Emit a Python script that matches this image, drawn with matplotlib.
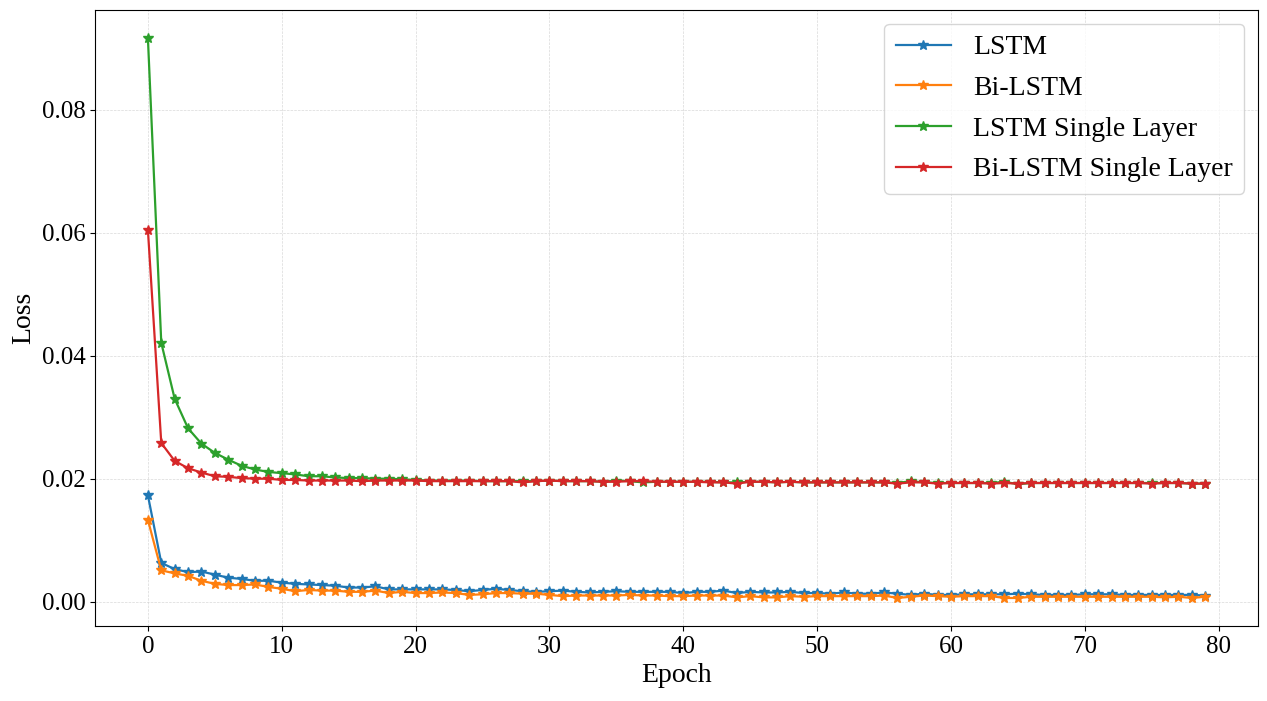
import matplotlib
matplotlib.use('Agg')
import matplotlib.pyplot as plt

plt.rcParams['font.family'] = ['Liberation Serif', 'DejaVu Serif']

epochs = list(range(80))

lstm = [
    0.0173, 0.0063, 0.0053, 0.0048, 0.0049, 0.0044, 0.0039, 0.0037, 0.0034, 0.0034,
    0.0031, 0.0029, 0.0028, 0.0027, 0.0026, 0.0023, 0.0023, 0.0025, 0.0020, 0.0020,
    0.0020, 0.0020, 0.0020, 0.0019, 0.0017, 0.0019, 0.0021, 0.0019, 0.0017, 0.0016,
    0.0017, 0.0018, 0.0016, 0.0015, 0.0016, 0.0017, 0.0016, 0.0016, 0.0016, 0.0016,
    0.0014, 0.0016, 0.0016, 0.0018, 0.0014, 0.0016, 0.0015, 0.0015, 0.0016, 0.0014,
    0.0014, 0.0013, 0.0015, 0.0013, 0.0013, 0.0015, 0.0013, 0.0011, 0.0013, 0.0011,
    0.0011, 0.0012, 0.0012, 0.0012, 0.0012, 0.0013, 0.0012, 0.0011, 0.0011, 0.0011,
    0.0012, 0.0012, 0.0012, 0.0011, 0.0011, 0.0011, 0.0011, 0.0011, 0.0011, 0.0010,
]

bi_lstm = [
    0.0133, 0.0051, 0.0046, 0.0042, 0.0034, 0.0029, 0.0027, 0.0027, 0.0028, 0.0024,
    0.0021, 0.0017, 0.0019, 0.0018, 0.0018, 0.0016, 0.0016, 0.0018, 0.0014, 0.0016,
    0.0014, 0.0014, 0.0015, 0.0014, 0.0011, 0.0012, 0.0014, 0.0014, 0.0013, 0.0013,
    0.0011, 0.0009, 0.0010, 0.0010, 0.0010, 0.0010, 0.0011, 0.0010, 0.0010, 0.0009,
    0.0009, 0.0010, 0.0010, 0.0010, 0.0007, 0.0009, 0.0007, 0.0007, 0.0009, 0.0008,
    0.0009, 0.0009, 0.0009, 0.0009, 0.0009, 0.0010, 0.0006, 0.0008, 0.0010, 0.0009,
    0.0008, 0.0009, 0.0009, 0.0009, 0.0006, 0.0006, 0.0008, 0.0008, 0.0008, 0.0008,
    0.0008, 0.0008, 0.0008, 0.0008, 0.0008, 0.0008, 0.0007, 0.0008, 0.0006, 0.0008,
]

lstm_single = [
    0.0917, 0.0421, 0.0330, 0.0282, 0.0257, 0.0242, 0.0231, 0.0221, 0.0215, 0.0211,
    0.0209, 0.0207, 0.0204, 0.0204, 0.0202, 0.0201, 0.0201, 0.0200, 0.0200, 0.0199,
    0.0198, 0.0197, 0.0197, 0.0197, 0.0197, 0.0196, 0.0196, 0.0196, 0.0196, 0.0196,
    0.0197, 0.0196, 0.0196, 0.0196, 0.0195, 0.0197, 0.0196, 0.0194, 0.0195, 0.0195,
    0.0195, 0.0195, 0.0195, 0.0194, 0.0194, 0.0195, 0.0195, 0.0194, 0.0195, 0.0194,
    0.0194, 0.0194, 0.0194, 0.0194, 0.0194, 0.0194, 0.0193, 0.0196, 0.0194, 0.0193,
    0.0193, 0.0193, 0.0193, 0.0193, 0.0195, 0.0191, 0.0193, 0.0193, 0.0193, 0.0193,
    0.0193, 0.0193, 0.0193, 0.0193, 0.0193, 0.0193, 0.0193, 0.0193, 0.0192, 0.0192,
]

bi_lstm_single = [
    0.0605, 0.0258, 0.0229, 0.0217, 0.0210, 0.0204, 0.0203, 0.0201, 0.0200, 0.0200,
    0.0198, 0.0198, 0.0197, 0.0197, 0.0197, 0.0197, 0.0196, 0.0197, 0.0197, 0.0197,
    0.0197, 0.0196, 0.0196, 0.0196, 0.0196, 0.0196, 0.0196, 0.0196, 0.0194, 0.0196,
    0.0197, 0.0196, 0.0196, 0.0196, 0.0195, 0.0195, 0.0196, 0.0196, 0.0195, 0.0195,
    0.0195, 0.0195, 0.0194, 0.0194, 0.0192, 0.0195, 0.0195, 0.0194, 0.0195, 0.0194,
    0.0194, 0.0194, 0.0194, 0.0194, 0.0194, 0.0194, 0.0192, 0.0194, 0.0194, 0.0192,
    0.0193, 0.0193, 0.0193, 0.0192, 0.0193, 0.0192, 0.0193, 0.0193, 0.0193, 0.0193,
    0.0193, 0.0193, 0.0193, 0.0193, 0.0193, 0.0192, 0.0193, 0.0193, 0.0192, 0.0192,
]

series = [
    ('LSTM', lstm),
    ('Bi-LSTM', bi_lstm),
    ('LSTM Single Layer', lstm_single),
    ('Bi-LSTM Single Layer', bi_lstm_single),
]

fig, ax = plt.subplots(figsize=(12.67, 7.01), dpi=100)
fig.subplots_adjust(left=0.075, right=0.993, top=0.986, bottom=0.107)

for nombre, valores in series:
    ax.plot(epochs, valores, marker='*', markersize=7, linewidth=1.6, label=nombre)

ax.set_xlabel('Epoch', fontsize=20)
ax.set_ylabel('Loss', fontsize=20)
ax.tick_params(axis='both', labelsize=18)
ax.grid(True, linestyle='--', linewidth=0.5, color='#d0d0d0', alpha=0.8)
ax.legend(loc='upper right', fontsize=20, labelspacing=0.55)

plt.savefig('out.png')
